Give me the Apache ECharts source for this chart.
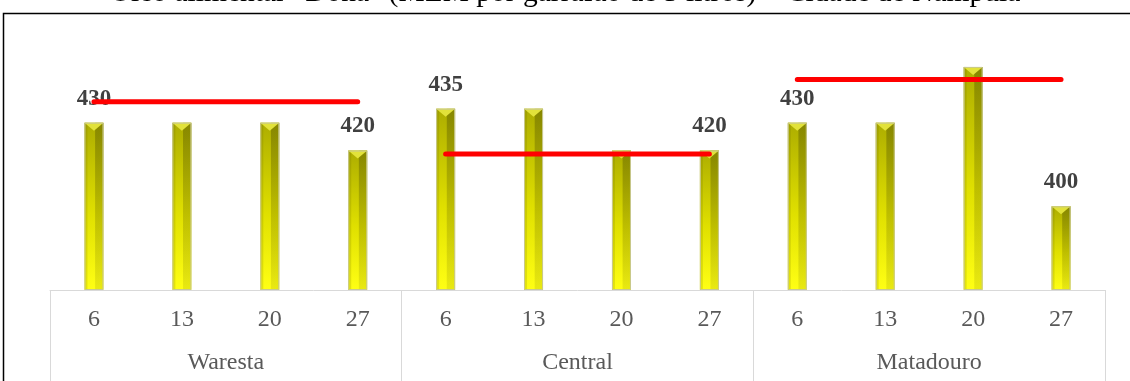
<!DOCTYPE html>
<html>
<head>
<meta charset="utf-8">
<script src="https://cdn.jsdelivr.net/npm/echarts@6/dist/echarts.min.js"></script>
<style>
  html, body { margin: 0; padding: 0; background: #ffffff; }
  #chart { width: 1130px; height: 381px; }
</style>
</head>
<body>
<div id="chart"></div>
<script>
// Weekly prices of "Dona" cooking oil (MZM per 5-litre container), by market
const days = ['6', '13', '20', '27'];
const markets = ['Waresta', 'Central', 'Matadouro'];
const waresta = [430, 430, 430, 420];
const central = [435, 435, 420, 420];
const matadouro = [430, 430, 450, 400];
// Reference level drawn as a red line across each market
const refLevels = [437.5, 418.75, 445.5];
// Week positions (within each market) that carry a value label
const labeledWeeks = [0, 3];

const Y_MIN = 370;
const Y_MAX = 460;
const SERIF = '"Liberation Serif", "Times New Roman", serif';

const marketValues = [waresta, central, matadouro];
const flatCats = [];
const barData = [];
markets.forEach(function (m, g) {
  days.forEach(function (d, k) {
    const idx = g * days.length + k;
    flatCats.push(d);
    barData.push([idx, marketValues[g][k], labeledWeeks.indexOf(k) >= 0 ? 1 : 0]);
  });
});

const refSeries = refLevels.map(function (lvl, g) {
  const arr = flatCats.map(function (_, i) {
    return Math.floor(i / days.length) === g ? lvl : null;
  });
  return {
    type: 'line',
    xAxisIndex: 0,
    data: arr,
    symbol: 'none',
    connectNulls: false,
    z: 5,
    lineStyle: { color: '#ff0000', width: 5, cap: 'round' },
    silent: true
  };
});

function renderBar(params, api) {
  const i = api.value(0);
  const v = api.value(1);
  const showLabel = api.value(2) === 1;
  const top = api.coord([i, v]);
  const base = api.coord([i, Y_MIN]);
  const w = 19;
  const x0 = top[0] - w / 2;
  const y0 = top[1];
  const h = base[1] - y0;
  const children = [
    {
      type: 'rect',
      shape: { x: x0, y: y0, width: w, height: h },
      style: {
        fill: new echarts.graphic.LinearGradient(0, 0, 0, 1, [
          { offset: 0, color: '#adad00' },
          { offset: 0.55, color: '#e0e000' },
          { offset: 1, color: '#ffff14' }
        ])
      }
    },
    {
      type: 'rect',
      shape: { x: x0 + w * 0.56, y: y0, width: w * 0.44, height: h },
      style: {
        fill: new echarts.graphic.LinearGradient(0, 0, 0, 1, [
          { offset: 0, color: 'rgba(60,60,0,0.34)' },
          { offset: 1, color: 'rgba(80,80,0,0.12)' }
        ])
      }
    },
    {
      type: 'rect',
      shape: { x: x0, y: y0, width: 3, height: h },
      style: { fill: 'rgba(90,90,0,0.16)' }
    },
    {
      type: 'polygon',
      shape: { points: [[x0, y0], [x0 + w, y0], [x0 + w / 2, y0 + 8]] },
      style: { fill: '#e2e23a' }
    },
    {
      type: 'rect',
      shape: { x: x0 + 0.5, y: y0 + 0.5, width: w - 1, height: h - 1 },
      style: { fill: 'none', stroke: '#c8c890', lineWidth: 1 }
    }
  ];
  if (showLabel) {
    children.push({
      type: 'text',
      x: top[0],
      y: y0 - 24,
      style: {
        text: String(v),
        fill: '#404040',
        font: 'bold 23px ' + SERIF,
        align: 'center',
        verticalAlign: 'middle'
      }
    });
  }
  return { type: 'group', children: children };
}

const chart = echarts.init(document.getElementById('chart'), null, { renderer: 'canvas' });
chart.setOption({
  animation: false,
  backgroundColor: '#ffffff',
  title: {
    text: 'Óleo alimentar "Dona" (MZM por garrafão de 5 litros) – Cidade de Nampula',
    left: 'center',
    top: -27,
    textStyle: { fontFamily: SERIF, fontSize: 29.5, fontWeight: 'normal', color: '#000000' }
  },
  graphic: [
    {
      type: 'rect',
      left: 1, top: 11,
      shape: { x: 0, y: 0, width: 1140, height: 400 },
      style: { fill: 'none', stroke: '#000000', lineWidth: 1.5 },
      silent: true,
      z: 100
    }
  ],
  grid: { left: 50, right: 25, top: 39, bottom: 91, containLabel: false },
  xAxis: [
    {
      type: 'category',
      data: flatCats,
      position: 'bottom',
      boundaryGap: true,
      axisLine: { show: true, lineStyle: { color: '#d9d9d9', width: 1 } },
      axisTick: { show: false },
      axisLabel: { interval: 0, margin: 18, color: '#595959', fontFamily: SERIF, fontSize: 24 }
    },
    {
      type: 'category',
      data: markets,
      position: 'bottom',
      boundaryGap: true,
      axisLine: { show: false },
      axisTick: { show: true, interval: 0, length: 100, lineStyle: { color: '#d9d9d9', width: 1 } },
      axisLabel: { interval: 0, margin: 61, color: '#595959', fontFamily: SERIF, fontSize: 24 }
    }
  ],
  yAxis: {
    type: 'value',
    min: Y_MIN,
    max: Y_MAX,
    show: false,
    splitLine: { show: false }
  },
  series: [
    {
      type: 'custom',
      xAxisIndex: 0,
      renderItem: renderBar,
      data: barData,
      encode: { x: 0, y: 1 },
      z: 2
    }
  ].concat(refSeries)
});
</script>
</body>
</html>
